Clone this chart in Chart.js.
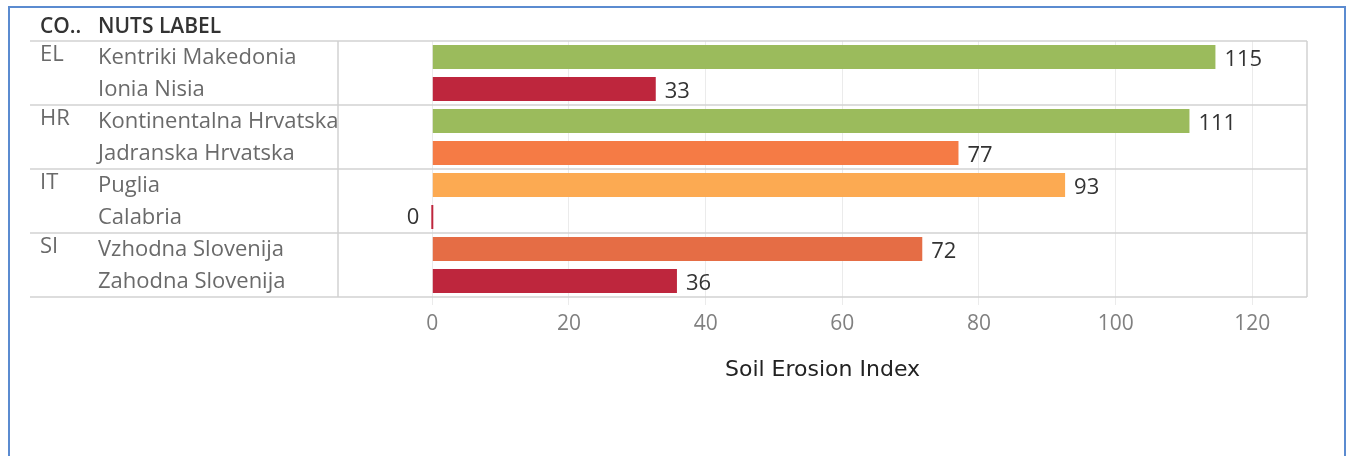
<!DOCTYPE html>
<html>
<head>
<meta charset="utf-8">
<script src="https://cdn.jsdelivr.net/npm/chart.js@4"></script>
<style>
  html, body { margin: 0; padding: 0; background: #fff; overflow: hidden; }
  #frame { position: absolute; left: 8px; top: 6px; width: 1338px; height: 470px; border: 2px solid #5b8bd0; box-sizing: border-box; }
  #wrap { position: absolute; left: 0; top: 0; width: 1354px; height: 456px; }
</style>
</head>
<body>
<div id="frame"></div>
<div id="wrap"><canvas id="chart" width="1354" height="456"></canvas></div>
<script>
const countryCodes = ["EL", "EL", "HR", "HR", "IT", "IT", "SI", "SI"];
const regionNames = [
  "Kentriki Makedonia",
  "Ionia Nisia",
  "Kontinentalna Hrvatska",
  "Jadranska Hrvatska",
  "Puglia",
  "Calabria",
  "Vzhodna Slovenija",
  "Zahodna Slovenija",
];
const erosionIndex = [114.6, 32.7, 110.8, 77.0, 92.6, 0, 71.7, 35.8];
const tickValues = [0, 20, 40, 60, 80, 100, 120];

const barColors = ["#9bbb5c", "#be263d", "#9bbb5c", "#f57b45", "#fcaa52", "#be263d", "#e56d45", "#be263d"];

const lineColor = "#d2d2d2";
const tableLeft = 30;
const codeX = 40;
const nameX = 98;
const textFont = "'Open Sans', sans-serif";

const tablePlugin = {
  id: "tablePlugin",
  afterDraw(chart) {
    const { ctx, chartArea } = chart;
    const y = chart.scales.y;
    const x = chart.scales.x;
    const n = regionNames.length;
    const rowPx = (i) => y.getPixelForValue(i);
    const boundary = (i) => (rowPx(i) + rowPx(i + 1)) / 2;

    ctx.save();
    // header
    ctx.fillStyle = "#333";
    ctx.font = `600 21px ${textFont}`;
    ctx.textBaseline = "middle";
    ctx.textAlign = "left";
    ctx.fillText("CO..", codeX, 27);
    ctx.fillText("NUTS LABEL", nameX, 27);

    // row labels
    ctx.font = `22px ${textFont}`;
    ctx.fillStyle = "#6a6a6a";
    for (let i = 0; i < n; i++) {
      const cy = rowPx(i) + 1;
      if (i === 0 || countryCodes[i] !== countryCodes[i - 1]) {
        ctx.fillText(countryCodes[i], codeX, cy - 3);
      }
      ctx.fillText(regionNames[i], nameX, cy);
    }

    // lines
    ctx.strokeStyle = lineColor;
    ctx.lineWidth = 1.5;
    ctx.beginPath();
    ctx.moveTo(tableLeft, chartArea.top);
    ctx.lineTo(chartArea.right, chartArea.top);
    ctx.moveTo(tableLeft, chartArea.bottom);
    ctx.lineTo(chartArea.right, chartArea.bottom);
    for (let i = 0; i < n - 1; i++) {
      if (countryCodes[i] !== countryCodes[i + 1]) {
        const by = boundary(i);
        ctx.moveTo(tableLeft, by);
        ctx.lineTo(chartArea.right, by);
      }
    }
    ctx.moveTo(chartArea.left, chartArea.top);
    ctx.lineTo(chartArea.left, chartArea.bottom);
    ctx.moveTo(chartArea.right, chartArea.top);
    ctx.lineTo(chartArea.right, chartArea.bottom);
    ctx.stroke();

    // value labels
    ctx.font = `22px ${textFont}`;
    ctx.fillStyle = "#333";
    const meta = chart.getDatasetMeta(0);
    meta.data.forEach((bar, i) => {
      const v = erosionIndex[i];
      const label = String(Math.round(v));
      if (v === 0) {
        ctx.textAlign = "right";
        ctx.fillText(label, x.getPixelForValue(0) - 13, bar.y + 1);
      } else {
        ctx.textAlign = "left";
        ctx.fillText(label, bar.x + 9, bar.y + 3);
      }
    });
    ctx.restore();
  },
};

new Chart(document.getElementById("chart"), {
  type: "bar",
  data: {
    labels: regionNames,
    datasets: [
      {
        data: erosionIndex,
        backgroundColor: barColors,
        borderWidth: 0,
        categoryPercentage: 1,
        barPercentage: 0.75,
        minBarLength: 2,
      },
    ],
  },
  options: {
    indexAxis: "y",
    responsive: false,
    animation: false,
    layout: { padding: { left: 338, top: 41, right: 47, bottom: 73 } },
    plugins: { legend: { display: false }, tooltip: { enabled: false } },
    scales: {
      y: { display: false },
      x: {
        min: -13.8,
        max: 128,
        afterBuildTicks: (scale) => {
          scale.ticks = tickValues.map((value) => ({ value }));
        },
        afterFit: (scale) => {
          scale.height = 86;
        },
        border: { display: false },
        grid: { color: "#ebebeb", lineWidth: 1, tickLength: 8, tickColor: "#ebebeb" },
        ticks: { color: "#808080", font: { family: textFont, size: 21 }, padding: 6 },
        title: {
          display: true,
          text: "Soil Erosion Index",
          color: "#222",
          font: { family: "'DejaVu Sans', sans-serif", size: 22 },
          padding: { top: 4, bottom: 0 },
        },
      },
    },
  },
  plugins: [tablePlugin],
});
</script>
</body>
</html>
